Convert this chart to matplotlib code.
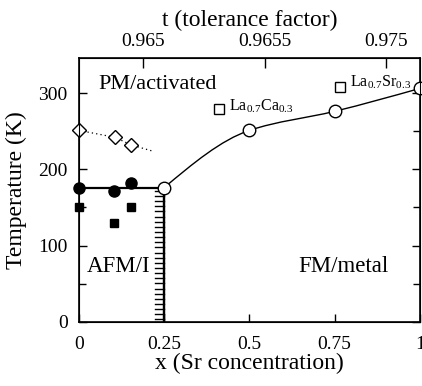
import numpy as np
import matplotlib
matplotlib.use("Agg")
import matplotlib.pyplot as plt
from matplotlib.path import Path
from matplotlib.patches import PathPatch
import matplotlib.patheffects as pe

plt.rcParams['font.family'] = ['Liberation Serif', 'DejaVu Serif']
plt.rcParams['mathtext.fontset'] = 'custom'
plt.rcParams['mathtext.rm'] = 'Liberation Serif'
plt.rcParams['mathtext.it'] = 'Liberation Serif:italic'

# ---- data ----
fm_x = [0.25, 0.5, 0.75, 1.0]
fm_T = [176, 251, 276, 306]

diam_x = [0.0, 0.105, 0.153]
diam_T = [251, 242, 232]
diam_guide_x = [0.0, 0.105, 0.153, 0.215]
diam_guide_T = [251, 242, 232, 224]

fcirc_x = [0.0, 0.103, 0.153]
fcirc_T = [175, 171, 182]

fsq_x = [0.0, 0.103, 0.153]
fsq_T = [151, 130, 151]

osq_x = [0.41, 0.765]
osq_T = [279, 308]
osq_labels = [r'La$_{0.7}$Ca$_{0.3}$', r'La$_{0.7}$Sr$_{0.3}$']

afm_Tn = 175
afm_xc = 0.25

top_tick_pos = [0.188, 0.545, 0.90]
top_tick_labels = ['0.965', '0.9655', '0.975']

x_ticks = [0, 0.25, 0.5, 0.75, 1]
x_ticklabels = ['0', '0.25', '0.5', '0.75', '1']
y_ticks = [0, 100, 200, 300]

# ---- figure ----
fig = plt.figure(figsize=(4.22, 3.86), dpi=100)
ax = fig.add_axes([0.187, 0.166, 0.808, 0.684])
ax.set_xlim(0, 1)
ax.set_ylim(0, 346)

# smooth FM curve: monotone cubic Hermite drawn as Bezier path
xs = np.asarray(fm_x, float)
ys = np.asarray(fm_T, float)
h = np.diff(xs)
d = np.diff(ys) / h
s = np.zeros_like(xs)
for i in range(1, len(xs) - 1):
    s[i] = 2.0 / (1.0 / d[i - 1] + 1.0 / d[i])
s[0] = (3 * d[0] - s[1]) / 2
s[-1] = (3 * d[-1] - s[-2]) / 2
verts = [(xs[0], ys[0])]
codes = [Path.MOVETO]
for i in range(len(xs) - 1):
    verts += [(xs[i] + h[i] / 3, ys[i] + s[i] * h[i] / 3),
              (xs[i + 1] - h[i] / 3, ys[i + 1] - s[i + 1] * h[i] / 3),
              (xs[i + 1], ys[i + 1])]
    codes += [Path.CURVE4] * 3
ax.add_patch(PathPatch(Path(verts, codes), fill=False, lw=1.0, color='black', zorder=2))

# AFM boundary
ax.plot([0, afm_xc], [afm_Tn, afm_Tn], color='black', lw=1.6, zorder=2)
ax.plot([afm_xc, afm_xc], [0, afm_Tn], color='black', lw=1.6, zorder=2,
        path_effects=[pe.withTickedStroke(angle=90, spacing=3.6, length=1.9, linewidth=1.0),
                      pe.Normal()])

# dotted guide for diamonds
ax.plot(diam_guide_x, diam_guide_T, ls=(0, (1, 2.5)), color='black', lw=0.9, zorder=2)

ax.plot(fm_x, fm_T, 'o', ms=9, mfc='white', mec='black', mew=1.0, clip_on=False, zorder=4)
ax.plot(diam_x, diam_T, 'D', ms=7, mfc='white', mec='black', mew=1.0, clip_on=False, zorder=4)
ax.plot(fcirc_x, fcirc_T, 'o', ms=8, color='black', clip_on=False, zorder=4)
ax.plot(fsq_x, fsq_T, 's', ms=6, color='black', clip_on=False, zorder=4)
ax.plot(osq_x, osq_T, 's', ms=7.5, mfc='white', mec='black', mew=1.0, clip_on=False, zorder=4)

ax.text(osq_x[0] + 0.03, osq_T[0] + 4, osq_labels[0], fontsize=11.5, va='center', ha='left')
ax.text(osq_x[1] + 0.03, osq_T[1] + 6, osq_labels[1], fontsize=11.5, va='center', ha='left')

ax.text(0.056, 311, 'PM/activated', fontsize=16, va='center', ha='left')
ax.text(0.642, 72, 'FM/metal', fontsize=16.5, va='center', ha='left')
ax.text(0.022, 72, 'AFM/I', fontsize=16.5, va='center', ha='left')

ax.set_xticks(x_ticks)
ax.set_xticklabels(x_ticklabels)
ax.set_yticks(y_ticks)
ax.set_yticks([50, 150, 250], minor=True)
ax.tick_params(axis='both', which='major', direction='in', length=6, width=1.0,
               labelsize=14, right=True, pad=8)
ax.tick_params(axis='y', which='minor', direction='in', length=5, width=1.0, right=True)
ax.tick_params(axis='x', which='major', length=6)
ax.tick_params(axis='x', pad=10)
ax.set_xlabel('x (Sr concentration)', fontsize=17, labelpad=0)
ax.set_ylabel('Temperature (K)', fontsize=17, labelpad=8)
for sp in ax.spines.values():
    sp.set_linewidth(1.2)

ax2 = ax.twiny()
ax2.set_xlim(ax.get_xlim())
ax2.set_xticks(top_tick_pos)
ax2.set_xticklabels(top_tick_labels)
ax2.tick_params(axis='x', direction='in', length=7, width=1.0, labelsize=14, pad=6)
ax2.set_xlabel('t (tolerance factor)', fontsize=17, labelpad=5)

fig.savefig('out.png', dpi=100)
